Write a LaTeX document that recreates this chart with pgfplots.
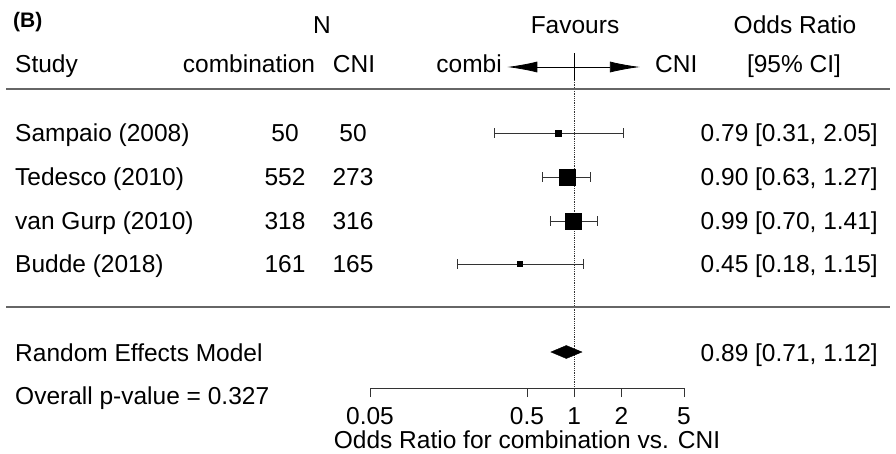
\documentclass[border=0pt]{standalone}
\usepackage{pgfplots}
\pgfplotsset{compat=1.18}
\usepackage{fontspec}
\setmainfont{Liberation Sans}
\usetikzlibrary{arrows.meta}
\definecolor{sep}{HTML}{666666}
\definecolor{ci}{HTML}{333333}
\begin{document}
\fontsize{24.5}{29}\selectfont
\begin{tikzpicture}
\useasboundingbox (0pt,0pt) rectangle (896pt,-453pt);
\begin{axis}[
  at={(370pt,-388pt)}, anchor=south west,
  scale only axis, width=314pt, height=299pt,
  xmode=log, xmin=0.05, xmax=5, ymin=-388, ymax=-89,
  axis x line=bottom, axis y line=none,
  axis line style={-, ci, line width=0.9pt},
  xtick={0.05,0.5,1,2,5}, xticklabels={0.05,0.5,1,2,5},
  xminorticks=false,
  tick align=outside, major tick length=9pt,
  every tick/.style={ci, line width=0.9pt},
  xticklabel style={anchor=base, inner sep=0pt, yshift=-27pt},
  xlabel={Odds Ratio for combination vs. CNI},
  xlabel style={anchor=base, inner sep=0pt, at={(axis description cs:0.5,0)}, yshift=-60pt},
  clip=false,
]
% reference line
\addplot[ci, line width=0.8pt, densely dotted] coordinates {(1,-80) (1,-388)};
% favours arrow
\addplot[black, line width=0.8pt, -{Latex[length=30pt,width=11pt]}] coordinates {(1,-67) (2.62,-67)};
\addplot[black, line width=0.8pt, -{Latex[length=30pt,width=11pt]}] coordinates {(1,-67) (0.375,-67)};
\addplot[black, line width=0.8pt] coordinates {(1,-53) (1,-80)};
% Sampaio 0.79 [0.31, 2.05]
\addplot[ci, line width=0.8pt] coordinates {(0.31,-133) (2.05,-133)};
\addplot[ci, line width=0.8pt] coordinates {(0.31,-128) (0.31,-138)};
\addplot[ci, line width=0.8pt] coordinates {(2.05,-128) (2.05,-138)};
\addplot[only marks, mark=square*, mark size=2.7pt, mark options={fill=black, draw=black, line width=0.3pt}] coordinates {(0.79,-133)};
% Tedesco 0.90 [0.63, 1.27]
\addplot[ci, line width=0.8pt] coordinates {(0.63,-177) (1.27,-177)};
\addplot[ci, line width=0.8pt] coordinates {(0.63,-172) (0.63,-182)};
\addplot[ci, line width=0.8pt] coordinates {(1.27,-172) (1.27,-182)};
\addplot[only marks, mark=square*, mark size=8.0pt, mark options={fill=black, draw=black, line width=0.3pt}] coordinates {(0.90,-177)};
% van Gurp 0.99 [0.70, 1.41]
\addplot[ci, line width=0.8pt] coordinates {(0.70,-221) (1.41,-221)};
\addplot[ci, line width=0.8pt] coordinates {(0.70,-216) (0.70,-226)};
\addplot[ci, line width=0.8pt] coordinates {(1.41,-216) (1.41,-226)};
\addplot[only marks, mark=square*, mark size=8.0pt, mark options={fill=black, draw=black, line width=0.3pt}] coordinates {(0.99,-221)};
% Budde 0.45 [0.18, 1.15]
\addplot[ci, line width=0.8pt] coordinates {(0.18,-264) (1.15,-264)};
\addplot[ci, line width=0.8pt] coordinates {(0.18,-259) (0.18,-269)};
\addplot[ci, line width=0.8pt] coordinates {(1.15,-259) (1.15,-269)};
\addplot[only marks, mark=square*, mark size=2.5pt, mark options={fill=black, draw=black, line width=0.3pt}] coordinates {(0.45,-264)};
% Random effects 0.89 [0.71, 1.12]
\addplot[fill=black, draw=black, line width=0.4pt] coordinates {(0.71,-352) (0.89,-345.5) (1.12,-352) (0.89,-358.5)} -- cycle;
\end{axis}
% separators
\draw[sep, line width=1.5pt] (6pt,-89pt) -- (890pt,-89pt);
\draw[sep, line width=1.5pt] (6pt,-307pt) -- (890pt,-307pt);
% headers
\node[anchor=base west, inner sep=0pt, font=\bfseries\fontsize{21}{25}\selectfont] at (13pt,-27pt) {(B)};
\node[anchor=base, inner sep=0pt] at (322pt,-33pt) {N};
\node[anchor=base, inner sep=0pt] at (575pt,-33pt) {Favours};
\node[anchor=base, inner sep=0pt] at (795pt,-33pt) {Odds Ratio};
\node[anchor=base west, inner sep=0pt] at (15pt,-72pt) {Study};
\node[anchor=base, inner sep=0pt] at (249pt,-72pt) {combination};
\node[anchor=base, inner sep=0pt] at (354pt,-72pt) {CNI};
\node[anchor=base east, inner sep=0pt] at (502pt,-72pt) {combi};
\node[anchor=base west, inner sep=0pt] at (655pt,-72pt) {CNI};
\node[anchor=base, inner sep=0pt] at (794pt,-72pt) {[95\% CI]};
% rows
\node[anchor=base west, inner sep=0pt] at (15pt,-141.8pt) {Sampaio (2008)};
\node[anchor=base west, inner sep=0pt] at (15pt,-185.8pt) {Tedesco (2010)};
\node[anchor=base west, inner sep=0pt] at (15pt,-229.8pt) {van Gurp (2010)};
\node[anchor=base west, inner sep=0pt] at (15pt,-272.8pt) {Budde (2018)};
\node[anchor=base, inner sep=0pt] at (285pt,-141.8pt) {50};
\node[anchor=base, inner sep=0pt] at (285pt,-185.8pt) {552};
\node[anchor=base, inner sep=0pt] at (285pt,-229.8pt) {318};
\node[anchor=base, inner sep=0pt] at (285pt,-272.8pt) {161};
\node[anchor=base, inner sep=0pt] at (353pt,-141.8pt) {50};
\node[anchor=base, inner sep=0pt] at (353pt,-185.8pt) {273};
\node[anchor=base, inner sep=0pt] at (353pt,-229.8pt) {316};
\node[anchor=base, inner sep=0pt] at (353pt,-272.8pt) {165};
\node[anchor=base east, inner sep=0pt] at (878pt,-141.8pt) {0.79 [0.31, 2.05]};
\node[anchor=base east, inner sep=0pt] at (878pt,-185.8pt) {0.90 [0.63, 1.27]};
\node[anchor=base east, inner sep=0pt] at (878pt,-229.8pt) {0.99 [0.70, 1.41]};
\node[anchor=base east, inner sep=0pt] at (878pt,-272.8pt) {0.45 [0.18, 1.15]};
\node[anchor=base west, inner sep=0pt] at (15pt,-361pt) {Random Effects Model};
\node[anchor=base east, inner sep=0pt] at (878pt,-361pt) {0.89 [0.71, 1.12]};
\node[anchor=base west, inner sep=0pt] at (15pt,-404pt) {Overall p-value = 0.327};
\end{tikzpicture}
\end{document}
